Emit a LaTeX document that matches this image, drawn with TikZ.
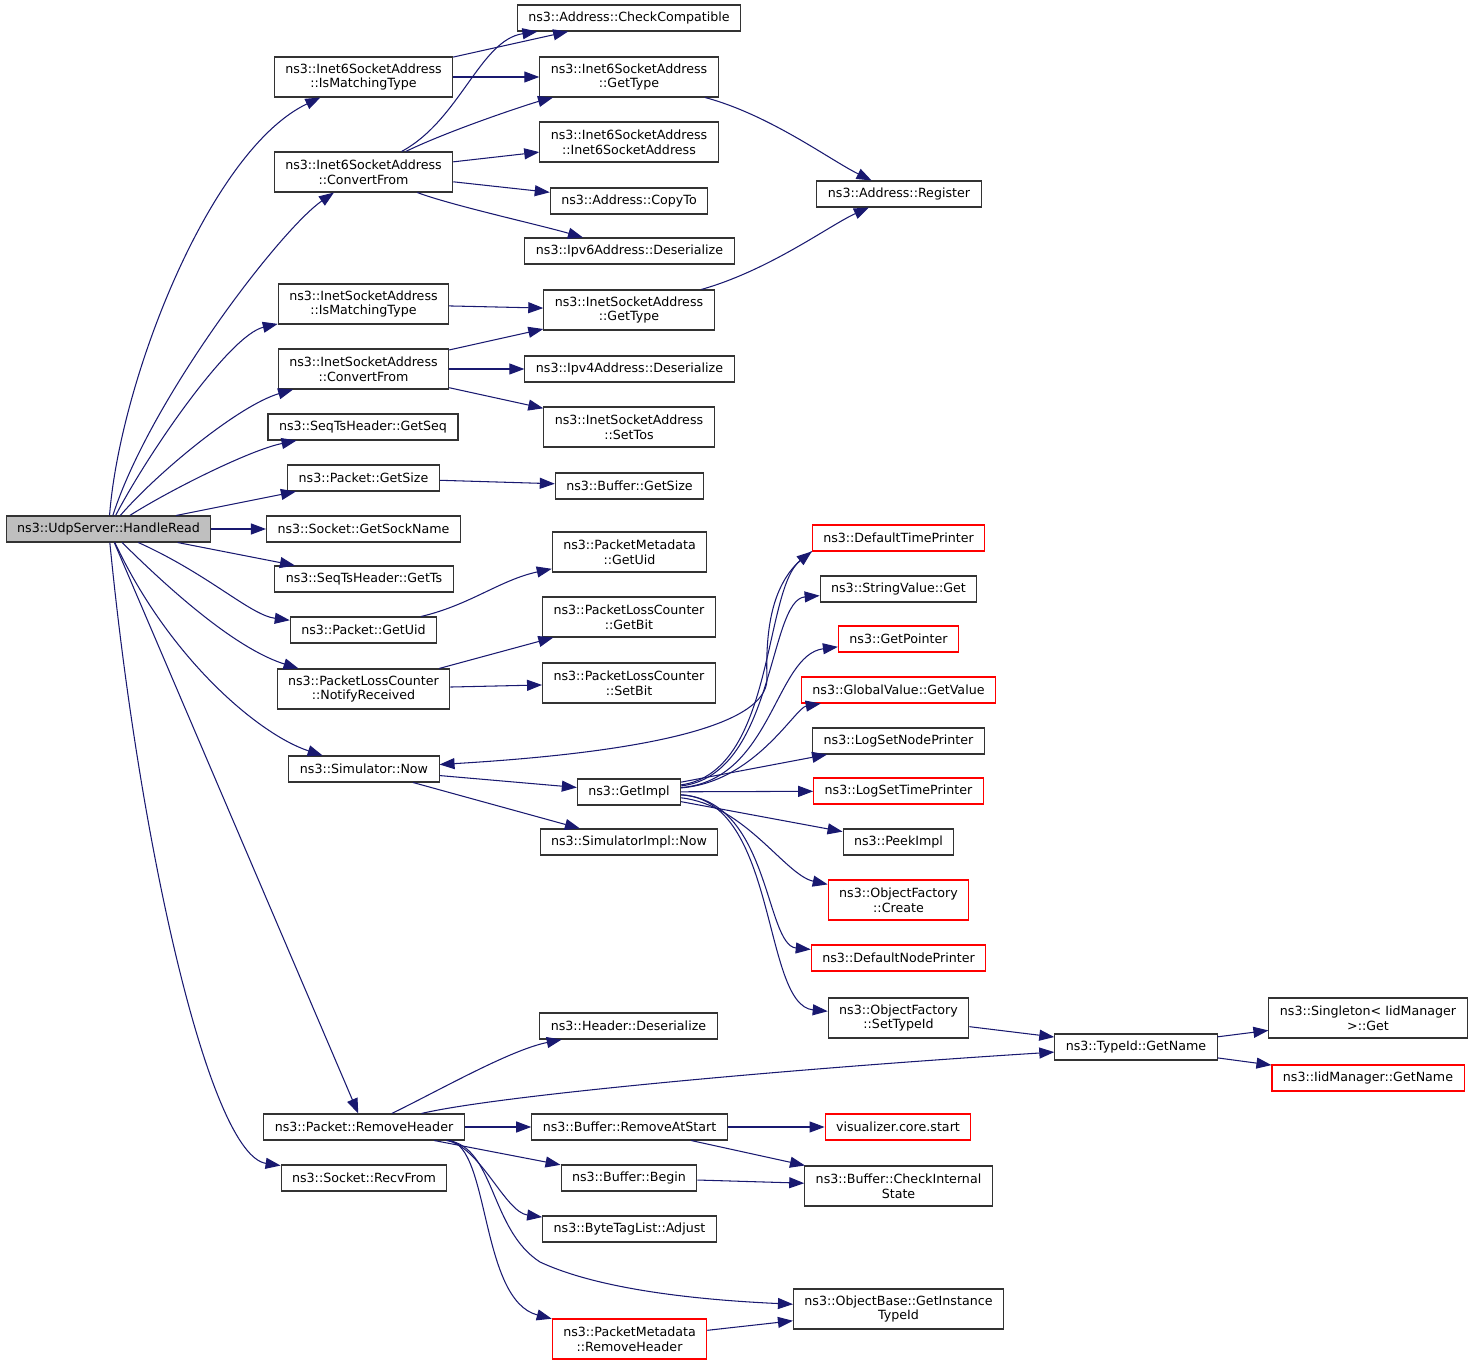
\documentclass[tikz,border=0pt]{standalone}
\usepackage{fontspec}
\setmainfont{DejaVu Sans}
\usetikzlibrary{arrows.meta}
\definecolor{edgeblue}{HTML}{191970}
\definecolor{rootgray}{HTML}{BFBFBF}
\definecolor{boxline}{HTML}{333333}

\begin{document}
\begin{tikzpicture}[
    x=0.02cm, y=-0.02cm,
    font=\fontsize{7.2}{8.5}\selectfont,
    fn/.style={
		rectangle,
		draw=boxline,
		line width=0.6pt,
		fill=white,
		align=center,
		inner xsep=0.22cm,
		inner ysep=0pt,
		minimum height=0.52cm
	},
	two/.style={
		minimum height=0.8cm
	},
	nodoc/.style={
		draw=red
	},
	root/.style={
		fill=rootgray
	},
	call/.style={
		draw=edgeblue,
		line width=0.6pt,
		-{Triangle[length=3mm,width=2.2mm]}
	}
  ]
  \useasboundingbox (0,0) rectangle (1475,1364);

  % the function whose call graph is drawn
  \node [fn, root] (hr) at (108.5,529) {ns3::UdpServer::HandleRead};

  % functions called directly
  \node [fn, two] (im6) at (363.5,77) {ns3::Inet6SocketAddress\\::IsMatchingType};
  \node [fn, two] (cf6) at (363.5,172) {ns3::Inet6SocketAddress\\::ConvertFrom};
  \node [fn, two] (im4) at (363.5,304) {ns3::InetSocketAddress\\::IsMatchingType};
  \node [fn, two] (cf4) at (363.5,369) {ns3::InetSocketAddress\\::ConvertFrom};
  \node [fn] (getseq) at (363,427) {ns3::SeqTsHeader::GetSeq};
  \node [fn] (pgetsize) at (363.5,478) {ns3::Packet::GetSize};
  \node [fn] (sockname) at (363.5,529) {ns3::Socket::GetSockName};
  \node [fn] (getts) at (364,579) {ns3::SeqTsHeader::GetTs};
  \node [fn] (pgetuid) at (363.5,630) {ns3::Packet::GetUid};
  \node [fn, two] (notify) at (363.5,689) {ns3::PacketLossCounter\\::NotifyReceived};
  \node [fn] (simnow) at (364,769) {ns3::Simulator::Now};
  \node [fn] (rmhdr) at (364,1127) {ns3::Packet::RemoveHeader};
  \node [fn] (recv) at (364,1178) {ns3::Socket::RecvFrom};

  % second level
  \node [fn] (cc) at (629,18) {ns3::Address::CheckCompatible};
  \node [fn, two] (gt6) at (629,77) {ns3::Inet6SocketAddress\\::GetType};
  \node [fn, two] (ctor6) at (629,142) {ns3::Inet6SocketAddress\\::Inet6SocketAddress};
  \node [fn] (copyto) at (629,201) {ns3::Address::CopyTo};
  \node [fn] (ip6des) at (629.5,251) {ns3::Ipv6Address::Deserialize};
  \node [fn, two] (gt4) at (629,310) {ns3::InetSocketAddress\\::GetType};
  \node [fn] (ip4des) at (629.5,369) {ns3::Ipv4Address::Deserialize};
  \node [fn, two] (settos) at (629,427) {ns3::InetSocketAddress\\::SetTos};
  \node [fn] (bgetsize) at (629.5,486) {ns3::Buffer::GetSize};
  \node [fn, two] (pmgetuid) at (629.5,552) {ns3::PacketMetadata\\::GetUid};
  \node [fn, two] (getbit) at (629,617) {ns3::PacketLossCounter\\::GetBit};
  \node [fn, two] (setbit) at (629,683) {ns3::PacketLossCounter\\::SetBit};
  \node [fn] (getimpl) at (629,792) {ns3::GetImpl};
  \node [fn] (simimpl) at (629,842) {ns3::SimulatorImpl::Now};
  \node [fn] (hdrdes) at (628.5,1026) {ns3::Header::Deserialize};
  \node [fn] (rmstart) at (629.5,1127) {ns3::Buffer::RemoveAtStart};
  \node [fn] (bbegin) at (629,1178) {ns3::Buffer::Begin};
  \node [fn] (btladj) at (629.5,1229) {ns3::ByteTagList::Adjust};
  \node [fn, two, nodoc] (pmrmhdr) at (629.5,1339) {ns3::PacketMetadata\\::RemoveHeader};

  % third level
  \node [fn] (register) at (899,194) {ns3::Address::Register};
  \node [fn, nodoc] (dtp) at (898.5,538) {ns3::DefaultTimePrinter};
  \node [fn] (svget) at (898.5,589) {ns3::StringValue::Get};
  \node [fn, nodoc] (getptr) at (898.5,639) {ns3::GetPointer};
  \node [fn, nodoc] (gvget) at (898.5,690) {ns3::GlobalValue::GetValue};
  \node [fn] (lsnp) at (898.5,741) {ns3::LogSetNodePrinter};
  \node [fn, nodoc] (lstp) at (898.5,791) {ns3::LogSetTimePrinter};
  \node [fn] (peek) at (898.5,842) {ns3::PeekImpl};
  \node [fn, two, nodoc] (ofcreate) at (898.5,900) {ns3::ObjectFactory\\::Create};
  \node [fn, nodoc] (dnp) at (898.5,958) {ns3::DefaultNodePrinter};
  \node [fn, two] (ofsettid) at (898.5,1018) {ns3::ObjectFactory\\::SetTypeId};
  \node [fn, nodoc] (viz) at (898,1127) {visualizer.core.start};
  \node [fn, two] (bcheck) at (898.5,1186) {ns3::Buffer::CheckInternal\\State};
  \node [fn, two] (obtid) at (898.5,1309) {ns3::ObjectBase::GetInstance\\TypeId};

  % last levels
  \node [fn] (tidname) at (1136,1047) {ns3::TypeId::GetName};
  \node [fn, two] (single) at (1368,1018) {ns3::Singleton< IidManager\\>::Get};
  \node [fn, nodoc] (iidname) at (1368,1078) {ns3::IidManager::GetName};

  % calls from HandleRead
  \draw [call] (hr) .. controls (120,380) and (210,150) .. (im6);
  \draw [call] (hr) .. controls (150,400) and (280,230) .. (cf6);
  \draw [call] (hr) .. controls (150,450) and (230,335) .. (im4);
  \draw [call] (hr) .. controls (160,470) and (240,405) .. (cf4);
  \draw [call] (hr) .. controls (170,490) and (250,450) .. (getseq);
  \draw [call] (hr) -- (pgetsize);
  \draw [call] (hr) -- (sockname);
  \draw [call] (hr) -- (getts);
  \draw [call] (hr) .. controls (210,575) and (250,615) .. (pgetuid);
  \draw [call] (hr) .. controls (180,600) and (240,650) .. (notify);
  \draw [call] (hr) .. controls (170,660) and (260,735) .. (simnow);
  \draw [call] (hr) -- (rmhdr);
  \draw [call] (hr) .. controls (140,850) and (210,1155) .. (recv);

  % address conversions
  \draw [call] (im6) -- (cc);
  \draw [call] (im6) -- (gt6);
  \draw [call] (cf6) .. controls (460,120) and (480,40) .. (cc);
  \draw [call] (cf6) .. controls (450,130) and (529,104) .. (gt6);
  \draw [call] (cf6) -- (ctor6);
  \draw [call] (cf6) -- (copyto);
  \draw [call] (cf6) .. controls (450,205) and (540,225) .. (ip6des);
  \draw [call] (gt6) .. controls (770,115) and (830,160) .. (register);
  \draw [call] (im4) -- (gt4);
  \draw [call] (cf4) -- (gt4);
  \draw [call] (cf4) -- (ip4des);
  \draw [call] (cf4) -- (settos);
  \draw [call] (gt4) .. controls (770,270) and (830,225) .. (register);

  % packet and counter
  \draw [call] (pgetsize) -- (bgetsize);
  \draw [call] (pgetuid) .. controls (470,605) and (500,580) .. (pmgetuid);
  \draw [call] (notify) -- (getbit);
  \draw [call] (notify) -- (setbit);

  % simulator
  \draw [call] (simnow) -- (getimpl);
  \draw [call] (simnow) -- (simimpl);
  \draw [call] (dtp.south west) .. controls (775,575) and (765,620) .. (767,680)
     .. controls (765,725) and (650,752) .. (simnow);
  \draw [call] (getimpl) .. controls (775,772) and (763,590) .. (dtp.south west);
  \draw [call] (getimpl) .. controls (775,775) and (768,600) .. (svget);
  \draw [call] (getimpl) .. controls (772,780) and (775,655) .. (getptr);
  \draw [call] (getimpl) .. controls (755,782) and (795,708) .. (gvget);
  \draw [call] (getimpl) -- (lsnp);
  \draw [call] (getimpl) -- (lstp);
  \draw [call] (getimpl) -- (peek);
  \draw [call] (getimpl) .. controls (745,805) and (785,875) .. (ofcreate);
  \draw [call] (getimpl) .. controls (770,800) and (765,945) .. (dnp);
  \draw [call] (getimpl) .. controls (778,800) and (762,1005) .. (ofsettid);
  \draw [call] (ofsettid) -- (tidname);
  \draw [call] (tidname) -- (single);
  \draw [call] (tidname) -- (iidname);

  % RemoveHeader
  \draw [call] (rmhdr) .. controls (440,1090) and (510,1050) .. (hdrdes);
  \draw [call] (rmhdr) .. controls (500,1095) and (800,1068) .. (tidname);
  \draw [call] (rmhdr) -- (rmstart);
  \draw [call] (rmhdr) -- (bbegin);
  \draw [call] (rmhdr) .. controls (480,1146) and (505,1212) .. (btladj);
  \draw [call] (rmhdr) .. controls (495,1148) and (490,1230) .. (540,1262)
     .. controls (600,1290) and (700,1300) .. (obtid);
  \draw [call] (rmhdr) .. controls (490,1147) and (480,1300) .. (pmrmhdr);
  \draw [call] (pmrmhdr) -- (obtid);
  \draw [call] (rmstart) -- (viz);
  \draw [call] (rmstart) -- (bcheck);
  \draw [call] (bbegin) -- (bcheck);

\end{tikzpicture}
\end{document}
